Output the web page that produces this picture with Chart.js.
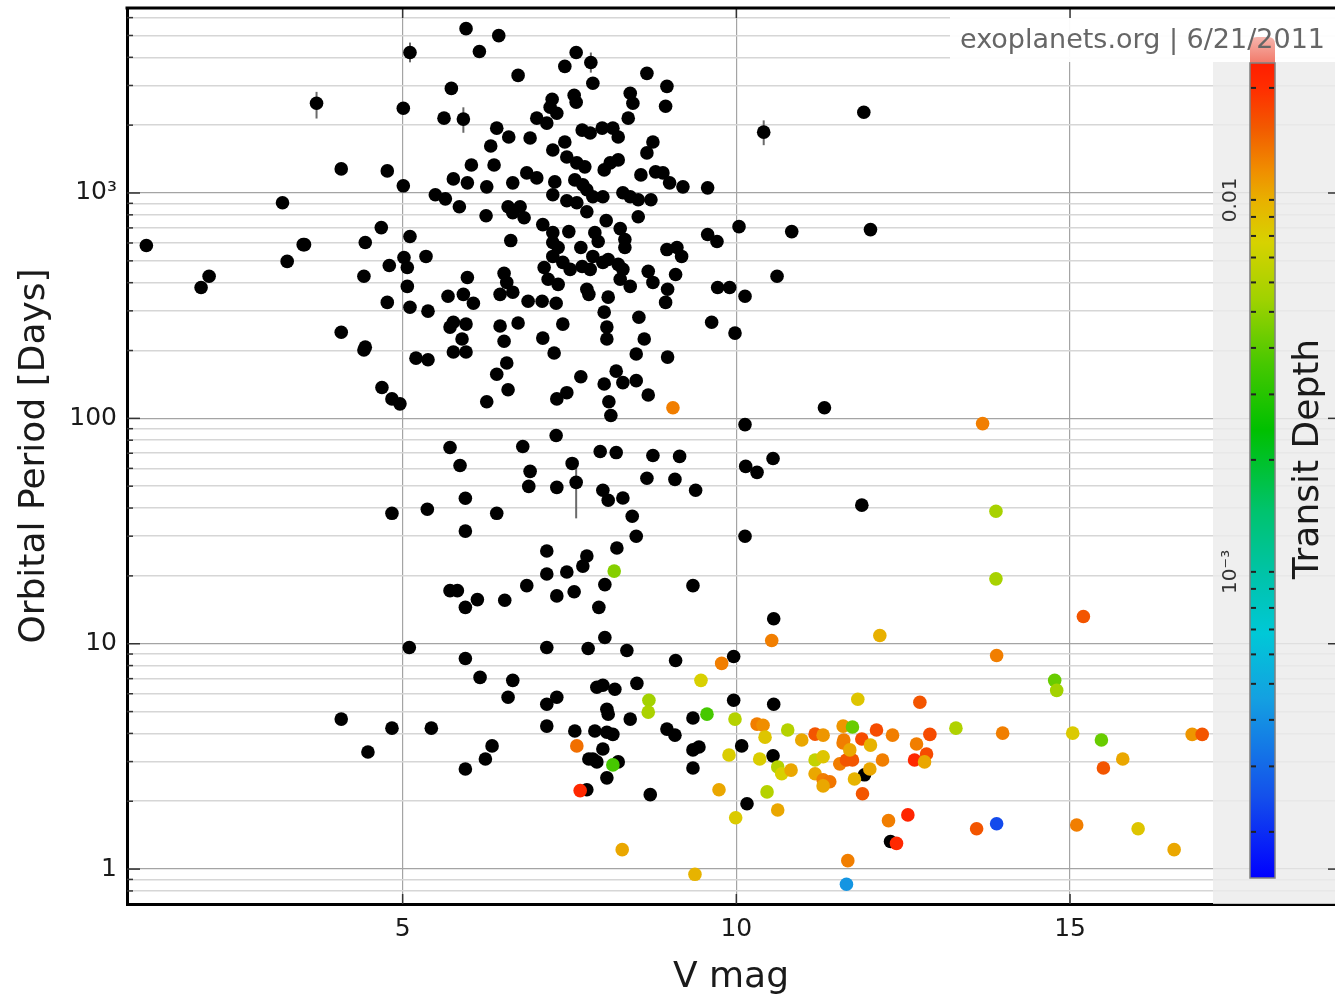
<!DOCTYPE html>
<html>
<head>
<meta charset="utf-8">
<title>Orbital Period vs V mag</title>
<script src="https://cdn.jsdelivr.net/npm/chart.js@4.4.1/dist/chart.umd.min.js"></script>
<style>
  html, body { margin: 0; padding: 0; background: #fff; }
  #wrap { width: 1335px; height: 1000px; }
</style>
</head>
<body>
<div id="wrap"><canvas id="plot" width="1335" height="1000"></canvas></div>
<script>
const FONT = '"DejaVu Sans", Verdana, sans-serif';

// axis ticks
const xTicks = [5, 10, 15];
const yDecades = [0.1, 1, 10, 100, 1000];
const yMult = [1, 2, 3, 4, 5, 6, 7, 8, 9];
const yLabelValues = [1, 10, 100, 1000];
const yLabelText = ['1', '10', '100', '10³'];
const depthTicks = [0.01, 0.001];
const depthTickText = ['0.01', '10⁻³'];

// planets without transit data (black)
const blackV = [
  5.95,6.44,6.15,5.11,7.60,7.82,7.43,6.73,8.66,5.73,
  7.85,8.41,8.96,7.24,7.57,7.60,8.45,8.94,3.71,5.01,
  5.62,5.91,7.01,7.16,7.31,7.21,6.41,6.59,6.91,7.69,
  7.81,7.99,8.15,8.23,8.38,8.75,8.66,6.32,7.25,7.43,
  7.46,7.61,7.73,8.11,8.23,8.02,6.03,6.37,4.08,4.77,
  5.01,5.76,5.97,6.26,6.65,6.86,7.01,7.28,7.58,7.70,
  7.25,7.46,7.76,7.85,8.00,8.30,8.41,8.53,8.57,8.79,
  8.90,9.00,9.20,9.57,8.72,5.49,5.64,5.85,6.25,6.58,
  6.65,6.76,6.82,7.10,7.61,7.76,8.05,8.53,8.26,7.88,
  7.93,7.49,7.67,7.25,7.25,7.33,6.62,4.68,4.44,5.11,
  3.53,9.57,9.71,10.04,8.96,9.11,9.18,5.02,5.35,4.80,
  5.07,4.42,5.07,4.77,5.11,5.38,5.97,5.68,5.91,6.06,
  6.52,6.56,6.46,6.65,6.88,7.09,7.30,7.12,7.18,7.33,
  7.25,7.40,7.51,7.69,7.81,7.85,8.00,8.08,8.23,8.30,
  8.33,8.33,8.26,8.41,7.76,7.79,8.08,8.02,8.68,8.75,
  8.97,8.94,9.09,9.72,9.90,10.13,9.63,9.98,8.54,8.62,
  8.06,8.06,7.40,7.10,6.52,6.46,6.73,5.95,5.76,5.71,
  5.89,4.08,4.44,1.16,1.98,2.10,3.20,3.27,3.51,11.91,
  10.41,12.01,10.83,10.61,4.42,5.20,5.38,5.76,5.95,6.56,
  6.41,6.58,6.26,7.27,7.67,7.31,7.46,8.02,8.30,8.50,
  8.20,8.50,8.97,8.68,8.09,8.12,4.69,4.84,4.96,7.30,
  5.71,5.86,6.80,6.91,6.89,7.31,7.54,7.60,7.96,8.20,
  8.75,8.66,8.00,8.08,8.30,8.44,8.50,8.21,9.39,5.94,
  5.37,4.84,6.41,5.94,7.16,7.76,7.70,7.46,7.16,6.86,
  5.71,5.82,6.12,5.94,6.53,7.31,7.57,8.03,7.94,9.35,
  11.32,10.13,10.14,10.31,10.55,10.13,11.88,9.15,9.08,10.56,
  8.03,7.16,7.78,8.36,9.09,9.96,8.51,7.91,8.00,8.18,
  7.31,7.16,8.06,8.08,8.41,9.35,9.96,10.56,7.16,7.58,
  7.88,8.06,8.15,8.96,9.08,8.00,9.35,9.44,10.08,5.94,
  6.16,6.65,6.58,6.34,6.24,5.94,7.79,7.85,7.91,8.06,
  9.35,10.55,7.76,8.71,10.16,11.92,12.31,4.08,4.48,4.84,
  5.43,5.10,8.23
];
const blackP = [
  5360,4990,4245,4200,4200,3795,3645,3325,3395,2912,
  3068,2770,2973,2606,2716,2528,2500,2427,2500,2377,
  2148,2128,2148,2042,2260,2403,1940,1771,1754,1901,
  1845,1940,1940,1771,2148,1683,1506,1616,1552,1683,
  1445,1360,1306,1360,1402,1266,1332,1332,1279,1253,
  1076,1155,1109,1065,1109,1228,1167,1120,1143,1087,
  982,924,1033,962,962,1002,962,933,1203,1241,
  1228,1109,1065,1054,933,982,942,869,793,869,
  818,869,777,724,905,826,754,785,695,667,
  609,674,573,667,603,573,615,702,603,641,
  590,654,609,709,561,573,523,517,523,477,
  467,427,385,327,311,299,422,348,355,324,
  440,401,355,363,331,331,324,467,414,393,
  523,492,458,472,458,523,492,507,482,458,
  573,621,414,385,374,355,345,296,449,401,
  374,327,435,381,381,348,267,239,281,225,
  254,225,262,227,220,257,265,262,267,254,
  225,241,207,585,381,427,905,497,590,2282,
  1862,688,674,427,201,185,182,197,197,176,
  157,134,118.5,195,153,122,130,142,144,147,
  162,193,187,127,118.5,103,137,122,116,83.9,
  74.3,61.8,75,58.2,49.9,49.4,63.1,52.0,71.3,70.5,
  68.4,54.2,48,43.3,44.3,36.8,30,26.6,48,44.2,
  39.5,37.9,37.9,31.6,25.8,24.5,22.1,20.8,20.4,18.1,
  17.2,17.2,15.7,14.5,15.6,16.3,17.0,18.3,14.5,18.1,
  111.5,93.8,61.2,57.6,66.4,30,41.2,67.8,53.6,12.9,
  10.65,9.62,9.53,9.33,8.43,8.78,6.67,6.41,6.54,6.28,
  5.79,5.39,5.12,4.87,4.63,4.68,5.61,5.39,4.31,4.10,
  4.10,4.05,3.96,4.18,3.93,3.41,3.38,3.48,3.52,8.6,
  7.09,6.88,5.79,3.52,3.08,2.78,3.08,3.08,2.99,2.54,
  2.81,3.18,2.25,2.14,1.95,2.62,1.325,4.63,3.31,4.22,
  4.22,9.62,2.99
];

// transiting planets, coloured by transit depth
const transitV = [
  9.05,13.69,13.89,13.89,15.20,13.90,8.17,12.15,10.53,9.78,
  9.47,8.69,8.68,9.56,9.98,10.31,10.40,10.43,10.77,10.98,
  11.18,11.30,11.60,11.74,11.61,11.88,12.10,12.34,11.82,12.01,
  7.61,8.15,9.89,10.35,10.62,10.68,10.82,11.18,11.30,11.18,
  11.30,11.40,11.30,11.55,11.65,11.74,11.60,11.70,12.00,11.77,
  12.19,11.89,12.28,12.40,11.67,11.65,9.38,8.29,9.99,9.74,
  10.46,10.62,7.66,14.77,14.80,12.75,12.90,13.29,13.99,15.04,
  15.47,16.83,16.98,12.70,12.85,12.67,12.82,15.79,15.50,12.57,
  13.60,13.90,15.10,16.02,16.56
];
const transitP = [
  111.5,94.8,38.7,19.4,13.2,8.87,21.0,10.87,10.33,8.18,
  6.88,5.61,4.97,4.87,4.63,4.40,4.35,3.85,4.14,3.74,
  3.97,3.93,4.31,4.27,3.74,3.78,4.14,3.93,5.67,3.55,
  3.52,2.90,3.21,3.08,2.84,2.65,2.75,3.05,3.15,2.65,
  2.49,2.44,2.34,2.93,3.05,3.05,3.63,3.38,2.78,2.51,
  3.05,2.16,1.64,1.30,1.09,0.856,0.948,1.22,1.69,2.25,
  2.20,1.83,2.23,6.88,6.21,5.50,3.96,4.22,4.01,4.01,
  3.74,3.96,3.96,3.59,3.24,3.05,2.99,3.08,2.81,1.74,
  1.51,1.59,1.57,1.51,1.22
];
const transitDepth = [
  .013,.013,.0057,.0057,.016,.013,.0048,.010,.013,.013,
  .0078,.0055,.0058,.0036,.0062,.013,.012,.0085,.0062,.0105,
  .016,.0115,.0115,.0042,.013,.017,.017,.013,.0085,.0098,
  .014,.0036,.008,.008,.0062,.0078,.0105,.0068,.0085,.0105,
  .013,.0135,.0105,.013,.016,.016,.013,.0105,.0105,.0098,
  .013,.016,.013,.021,.013,.00042,.0098,.0105,.0082,.0105,
  .0062,.0105,.021,.0042,.0055,.016,.017,.006,.013,.0082,
  .0042,.0115,.016,.013,.017,.021,.0105,.0105,.016,.022,
  .016,.00024,.013,.0085,.0105
];

// period error bars
const errV  = [5.11, 3.71, 5.91, 7.82, 10.41, 7.60];
const errLo = [3800, 2140, 1850, 3420, 1630, 36];
const errHi = [4650, 2810, 2400, 4200, 2100, 60];

// colour bar
const depthLogMin = -3.823, depthLogMax = -1.632;
const cbTop = 63, cbBottom = 878, cbLeft = 1250, cbWidth = 25;
const cmap = [
  [0.00, [0, 0, 255]], [0.10, [20, 80, 235]], [0.22, [20, 160, 225]],
  [0.30, [0, 200, 215]], [0.37, [0, 195, 170]], [0.45, [0, 195, 110]],
  [0.55, [0, 192, 0]], [0.63, [70, 200, 0]], [0.71, [160, 210, 0]],
  [0.78, [215, 210, 0]], [0.83, [232, 178, 0]], [0.87, [240, 140, 0]],
  [0.92, [242, 90, 0]], [0.97, [255, 45, 0]], [1.00, [255, 30, 0]]
];

function depthFrac(d) {
  return (Math.log10(d) - depthLogMin) / (depthLogMax - depthLogMin);
}
function depthY(d) {
  return cbBottom - depthFrac(d) * (cbBottom - cbTop);
}
function colorAt(f) {
  f = Math.max(0, Math.min(1, f));
  for (let i = 1; i < cmap.length; i++) {
    if (f <= cmap[i][0]) {
      const [f0, c0] = cmap[i - 1], [f1, c1] = cmap[i];
      const t = (f - f0) / (f1 - f0);
      const c = c0.map((v, k) => Math.round(v + (c1[k] - v) * t));
      return `rgb(${c[0]},${c[1]},${c[2]})`;
    }
  }
  return 'rgb(255,30,0)';
}

// full set of log grid values
let yTicks = [];
yDecades.forEach(d => yMult.forEach(m => yTicks.push(+(d * m).toPrecision(3))));
yTicks = yTicks.filter(v => v >= 0.727 && v <= 6620);
const isMajor = v => yLabelValues.includes(v);

function line(ctx, x1, y1, x2, y2) {
  ctx.beginPath(); ctx.moveTo(x1, y1); ctx.lineTo(x2, y2); ctx.stroke();
}

const decor = {
  id: 'decor',
  beforeDatasetsDraw(chart) {
    const {ctx, chartArea: a, scales: {x, y}} = chart;
    ctx.save();
    // grey panel behind the colour bar
    ctx.fillStyle = 'rgba(236,236,236,0.82)';
    ctx.fillRect(1213, 62, a.right - 1213, a.bottom - 62);
    // white box behind the stamp
    ctx.fillStyle = 'rgba(255,255,255,0.94)';
    ctx.fillRect(950, a.top, a.right - 950, 62 - a.top);
    // inner tick marks
    ctx.strokeStyle = '#333';
    ctx.lineWidth = 1.5;
    yTicks.forEach(v => {
      const py = y.getPixelForValue(v);
      const len = isMajor(v) ? 13 : 6;
      line(ctx, a.left, py, a.left + len, py);
      if (isMajor(v)) line(ctx, a.right, py, a.right - 7, py);
    });
    xTicks.forEach(v => {
      const px = x.getPixelForValue(v);
      line(ctx, px, a.top, px, a.top + 10);
      line(ctx, px, a.bottom, px, a.bottom - 10);
    });
    // error bars
    ctx.strokeStyle = '#6a6a6a';
    ctx.lineWidth = 2;
    errV.forEach((v, i) => {
      const px = x.getPixelForValue(v);
      line(ctx, px, y.getPixelForValue(errLo[i]), px, y.getPixelForValue(errHi[i]));
    });
    ctx.restore();
  },
  afterDatasetsDraw(chart) {
    const {ctx, chartArea: a} = chart;
    ctx.save();
    // top frame
    ctx.strokeStyle = '#000';
    ctx.lineWidth = 3;
    line(ctx, a.left - 1.5, a.top, a.right, a.top);

    // colour bar cap
    const capG = ctx.createLinearGradient(0, 37, 0, cbTop);
    capG.addColorStop(0, '#f6b4ac');
    capG.addColorStop(1, '#f27a6a');
    ctx.fillStyle = capG;
    ctx.beginPath();
    ctx.moveTo(cbLeft, cbTop);
    ctx.lineTo(cbLeft, 44);
    ctx.quadraticCurveTo(cbLeft, 37, cbLeft + 7, 37);
    ctx.lineTo(cbLeft + cbWidth - 7, 37);
    ctx.quadraticCurveTo(cbLeft + cbWidth, 37, cbLeft + cbWidth, 44);
    ctx.lineTo(cbLeft + cbWidth, cbTop);
    ctx.closePath();
    ctx.fill();

    // colour bar
    const g = ctx.createLinearGradient(0, cbBottom, 0, cbTop);
    cmap.forEach(([f, c]) => g.addColorStop(f, `rgb(${c[0]},${c[1]},${c[2]})`));
    ctx.fillStyle = g;
    ctx.fillRect(cbLeft, cbTop, cbWidth, cbBottom - cbTop);
    ctx.strokeStyle = '#808080';
    ctx.lineWidth = 1.5;
    ctx.strokeRect(cbLeft, cbTop, cbWidth, cbBottom - cbTop);

    // colour bar ticks
    ctx.strokeStyle = '#222';
    ctx.lineWidth = 2;
    [0.0001, 0.001, 0.01].forEach(d => yMult.forEach(m => {
      const v = d * m;
      const f = depthFrac(v);
      if (f < 0 || f > 1) return;
      const py = depthY(v);
      line(ctx, cbLeft + 1, py, cbLeft + 6, py);
      line(ctx, cbLeft + cbWidth - 6, py, cbLeft + cbWidth - 1, py);
    }));

    // colour bar labels
    ctx.fillStyle = '#333';
    ctx.font = `20px ${FONT}`;
    ctx.textAlign = 'center';
    ctx.textBaseline = 'middle';
    depthTicks.forEach((d, i) => {
      ctx.save();
      ctx.translate(1231, depthY(d));
      ctx.rotate(-Math.PI / 2);
      ctx.fillText(depthTickText[i], 0, 0);
      ctx.restore();
    });
    ctx.fillStyle = '#1a1a1a';
    ctx.font = `36px ${FONT}`;
    ctx.save();
    ctx.translate(1309, 459);
    ctx.rotate(-Math.PI / 2);
    ctx.fillText('Transit Depth', 0, 0);
    ctx.restore();

    // stamp
    ctx.fillStyle = '#666';
    ctx.font = `27px ${FONT}`;
    ctx.textAlign = 'right';
    ctx.textBaseline = 'alphabetic';
    ctx.fillText('exoplanets.org | 6/21/2011', 1325, 48);
    ctx.restore();
  }
};

const transitData = transitV.map((v, i) => ({x: v, y: transitP[i]}));
const blackData = blackV.map((v, i) => ({x: v, y: blackP[i]}));

new Chart(document.getElementById('plot'), {
  type: 'scatter',
  data: {
    datasets: [
      {
        label: 'Transiting',
        data: transitData,
        pointRadius: 6.8,
        pointBorderWidth: 0,
        pointBackgroundColor: transitDepth.map(d => colorAt(depthFrac(d)))
      },
      {
        label: 'Other',
        data: blackData,
        pointRadius: 6.8,
        pointBorderWidth: 0,
        pointBackgroundColor: '#000'
      }
    ]
  },
  options: {
    responsive: false,
    animation: false,
    devicePixelRatio: 1,
    events: [],
    layout: { autoPadding: false, padding: { top: 8, left: 0, right: 0, bottom: 0 } },
    plugins: { legend: { display: false }, tooltip: { enabled: false } },
    scales: {
      x: {
        type: 'linear',
        position: 'bottom',
        min: 0.87,
        max: 18.97,
        afterBuildTicks: s => { s.ticks = xTicks.map(v => ({value: v})); },
        afterFit: s => { s.height = 96; s.paddingLeft = 0; s.paddingRight = 0; },
        ticks: {
          autoSkip: false, maxRotation: 0, padding: 10,
          color: '#1a1a1a', font: { family: FONT, size: 25 },
          callback: v => String(v)
        },
        grid: { color: '#a4a4a4', lineWidth: 1.2, drawTicks: false },
        border: { color: '#000', width: 3 },
        title: {
          display: true, text: 'V mag', color: '#1a1a1a',
          font: { family: FONT, size: 36 }, padding: { top: 0, bottom: 1 }
        }
      },
      y: {
        type: 'logarithmic',
        position: 'left',
        min: 0.727,
        max: 6620,
        afterBuildTicks: s => { s.ticks = yTicks.map(v => ({value: v})); },
        afterFit: s => { s.width = 127; s.paddingTop = 0; s.paddingBottom = 0; },
        ticks: {
          autoSkip: false, padding: 10,
          color: '#1a1a1a', font: { family: FONT, size: 25 },
          callback: v => {
            const i = yLabelValues.indexOf(v);
            return i >= 0 ? yLabelText[i] : '';
          }
        },
        grid: {
          drawTicks: false,
          color: c => isMajor(c.tick.value) ? '#a4a4a4' : '#d6d6d6',
          lineWidth: c => isMajor(c.tick.value) ? 1.3 : 1.6
        },
        border: { color: '#000', width: 3 },
        title: {
          display: true, text: 'Orbital Period [Days]', color: '#1a1a1a',
          font: { family: FONT, size: 36 }, padding: { top: 13, bottom: 0 }
        }
      }
    }
  },
  plugins: [decor]
});
</script>
</body>
</html>
